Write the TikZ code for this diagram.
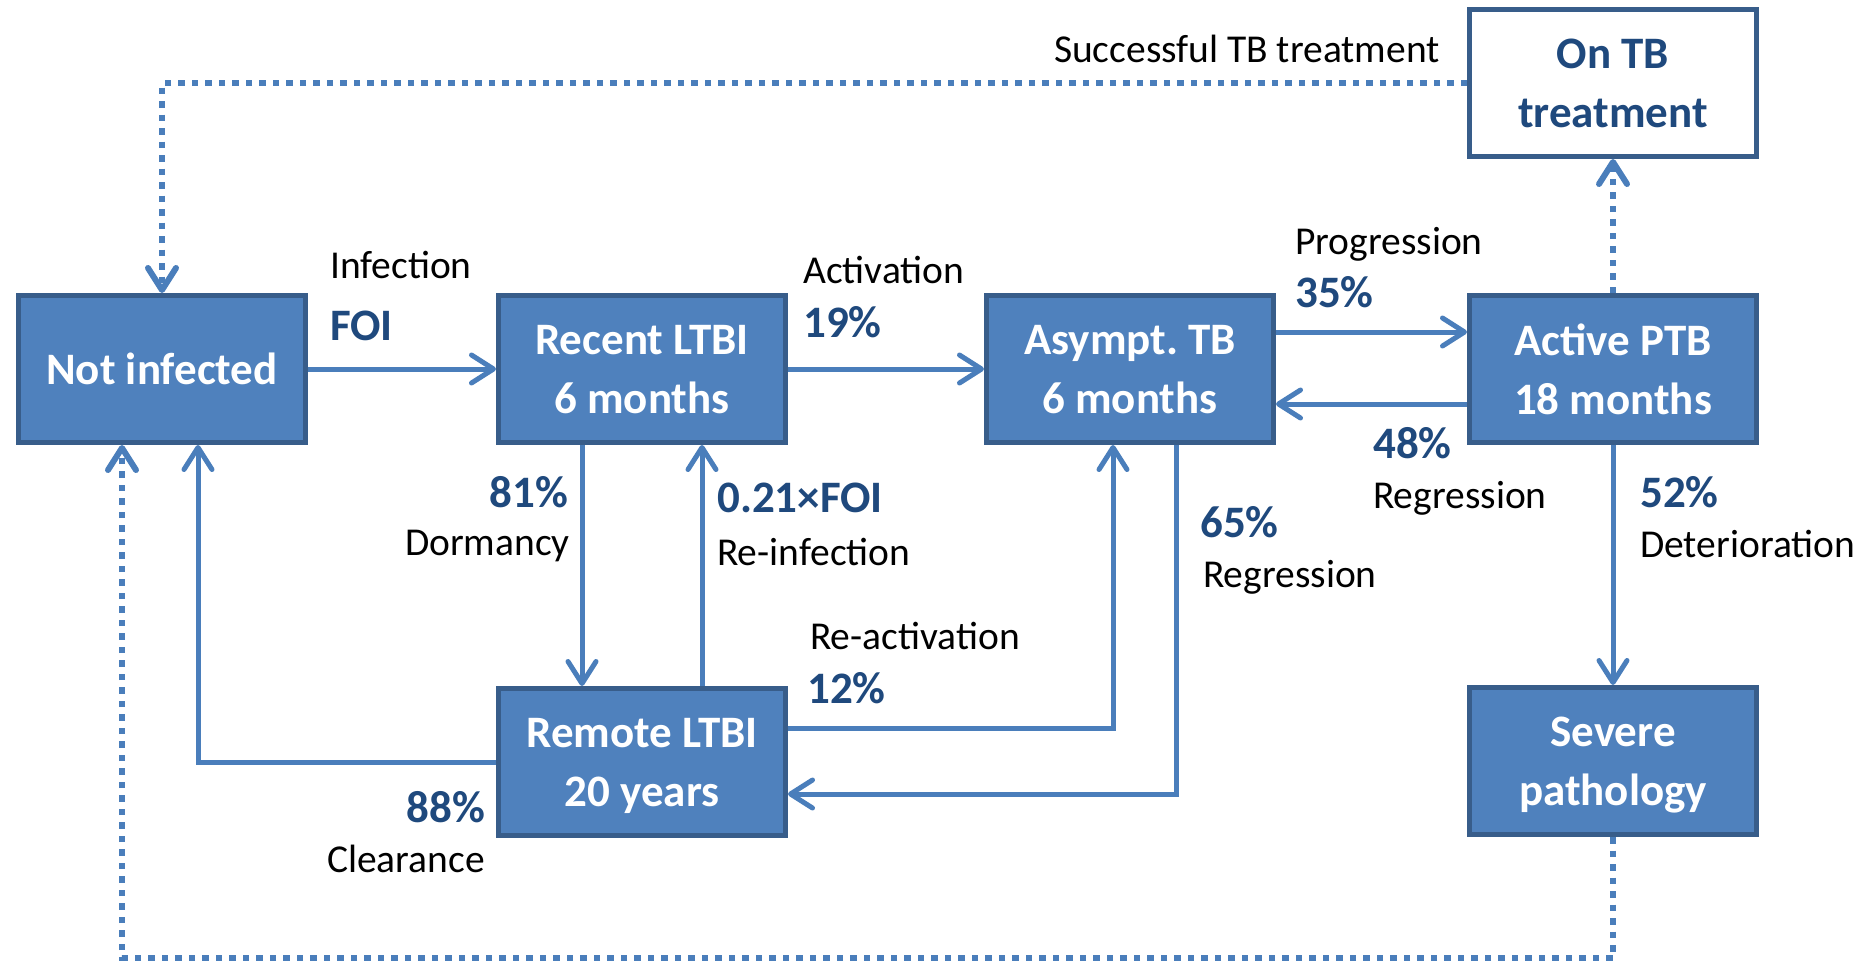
\documentclass[tikz,border=0pt]{standalone}
\usepackage{fontspec}
\setmainfont{Carlito}
\frenchspacing
\usetikzlibrary{arrows.meta,calc}
\definecolor{boxfill}{HTML}{4F81BD}
\definecolor{boxline}{HTML}{385D8A}
\definecolor{arrowc}{HTML}{4A7EBB}
\definecolor{numc}{HTML}{1F497D}
\begin{document}
\begin{tikzpicture}[x=1pt,y=-1pt,
  box/.style={draw=boxline, fill=boxfill, line width=5pt, minimum width=287pt, minimum height=147pt,
    inner sep=0pt, text=white, align=center, text depth=-5pt, font=\fontsize{45}{59}\selectfont\bfseries},
  wbox/.style={box, fill=white, text=numc},
  arr/.style={draw=arrowc, line width=5pt, -{Straight Barb[length=22pt,width=28pt,round]}},
  plain/.style={draw=arrowc, line width=5pt},
  dots/.style={line width=6pt, dash pattern=on 6.5pt off 7pt},
  lbl/.style={inner sep=0pt, font=\fontsize{39.5}{48}\selectfont, text=black},
  num/.style={inner sep=0pt, font=\fontsize{45}{56}\selectfont\bfseries, text=numc}]
\useasboundingbox (0,0) rectangle (1860,964);

% boxes
\node[box] (notinf) at (162,369) {Not infected};
\node[box] (recent) at (642,369) {Recent LTBI\\6 months};
\node[box] (asympt) at (1130,369) {Asympt.\ TB\\6 months};
\node[box] (active) at (1613,369) {Active PTB\\18 months};
\node[wbox] (ontb) at (1613,83) {On TB\\treatment};
\node[box] (remote) at (642,762) {Remote LTBI\\20 years};
\node[box] (severe) at (1613,761) {Severe\\pathology};
\coordinate (bot) at (0,958);

% solid connectors
\draw[arr] (notinf.east) -- (recent.west);
\draw[arr] (recent.east) -- (asympt.west);
\draw[arr] ($(asympt.east)+(0,-37)$) -- ($(active.west)+(0,-37)$);
\draw[arr] ($(active.west)+(0,35)$) -- ($(asympt.east)+(0,35)$);
\draw[arr] (active.south) -- (severe.north);
\draw[arr] ($(recent.south)+(-60,0)$) -- ($(remote.north)+(-60,0)$);
\draw[arr] ($(remote.north)+(60,0)$) -- ($(recent.south)+(60,0)$);
\draw[arr] (remote.west) -| ($(notinf.south)+(36,0)$);
\draw[arr] ($(remote.east)+(0,-34)$) -| ($(asympt.south)+(-17,0)$);
\draw[arr] ($(asympt.south)+(46,0)$) |- ($(remote.east)+(0,32)$);

% dotted connectors
\draw[arr,dots] (active.north) -- (ontb.south);
\draw[arr,dots] (ontb.west) -| (notinf.north);
\draw[arr,dots] (severe.south) -- (severe.south |- bot) -| ($(notinf.south)+(-40,0)$);

% labels
\node[lbl, anchor=base west] (l1) at (330,278) {Infection};
\node[num, anchor=base west] (n1) at (330,340) {FOI};
\node[lbl, anchor=base west] (l2) at (803,283) {Activation};
\node[num, anchor=base west] (n2) at (803,337) {19\%};
\node[lbl, anchor=base west] (l3) at (1295,254) {Progression};
\node[num, anchor=base west] (n3) at (1295,307) {35\%};
\node[num, anchor=base west] (n4) at (1373,458) {48\%};
\node[lbl, anchor=base west] (l4) at (1373,508) {Regression};
\node[num, anchor=base west] (n5) at (1640,507) {52\%};
\node[lbl, anchor=base west] (l5) at (1640,557) {Deterioration};
\node[num, anchor=base east] (n6) at (568,507) {81\%};
\node[lbl, anchor=base east] (l6) at (570,555) {Dormancy};
\node[num, anchor=base west] (n7) at (717,512) {0.21×FOI};
\node[lbl, anchor=base west] (l7) at (717,565) {Re-infection};
\node[lbl, anchor=base west] (l8) at (810,649) {Re-activation};
\node[num, anchor=base west] (n8) at (807,703) {12\%};
\node[num, anchor=base west] (n9) at (1200,537) {65\%};
\node[lbl, anchor=base west] (l9) at (1203,587) {Regression};
\node[num, anchor=base east] (n10) at (485,822) {88\%};
\node[lbl, anchor=base east] (l10) at (485,872) {Clearance};
\node[lbl, anchor=base east] (l11) at (1440,62) {Successful TB treatment};
\end{tikzpicture}
\end{document}
